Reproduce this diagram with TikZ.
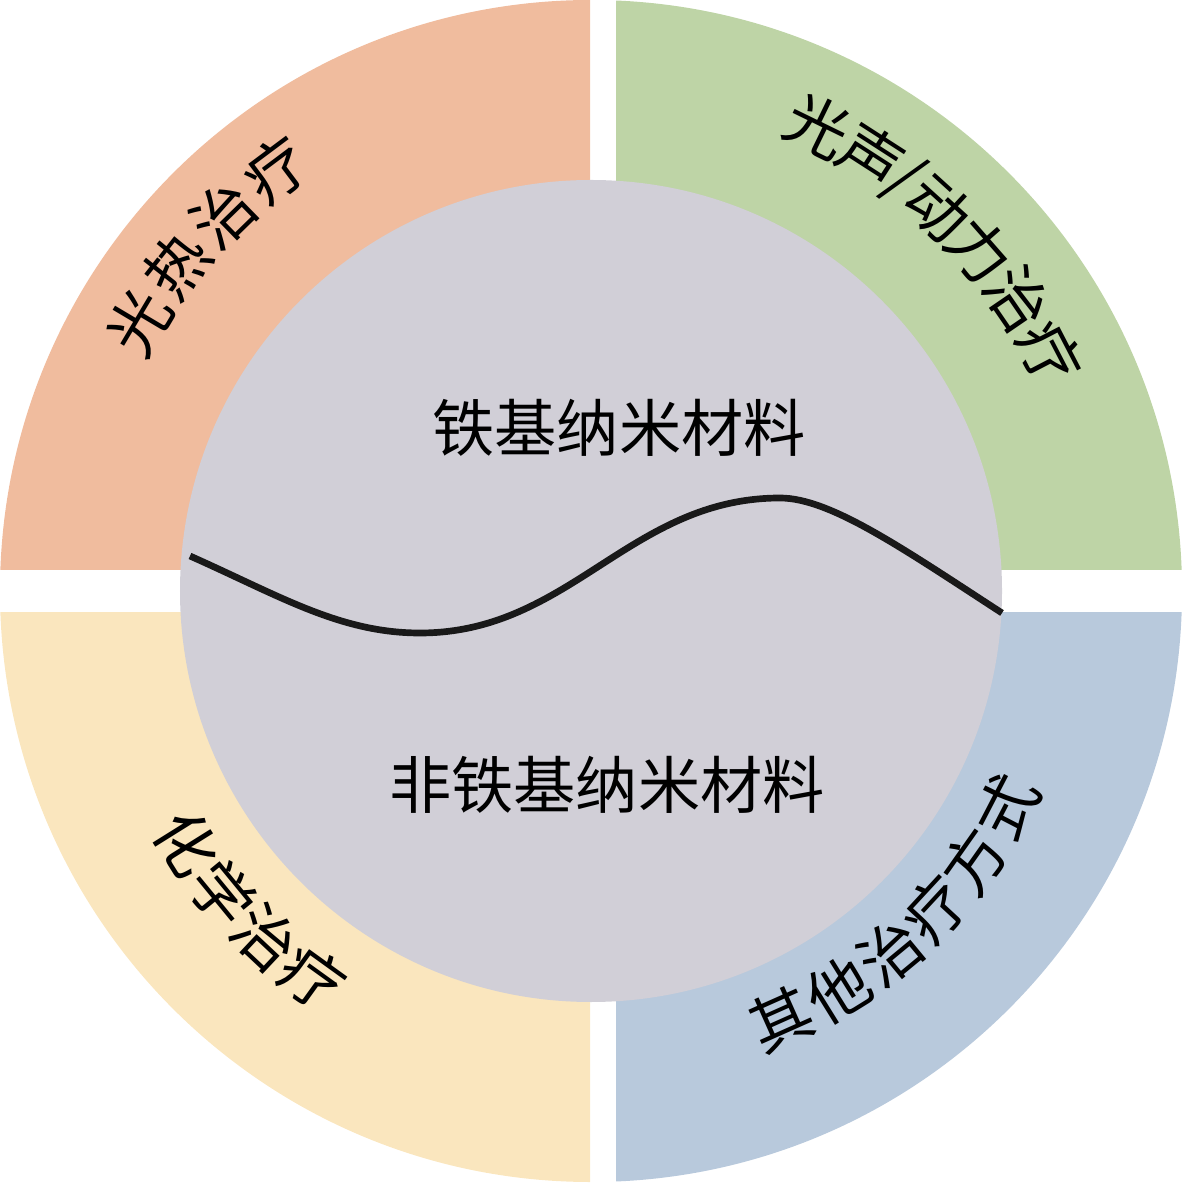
\documentclass[tikz,border=0pt]{standalone}
\usepackage{fontspec}
\newfontfamily\cjk{Noto Sans CJK SC}
\definecolor{salmon}{RGB}{240,188,158}
\definecolor{sage}{RGB}{190,212,166}
\definecolor{cream}{RGB}{250,230,190}
\definecolor{steel}{RGB}{184,201,220}
\definecolor{lilacgray}{RGB}{209,207,215}
\begin{document}
\begin{tikzpicture}[x=0.01cm, y=0.01cm]
  \tikzset{
    ring_text/.style={font=\cjk\fontsize{17.7pt}{20pt}\selectfont, inner sep=0pt},
    core_text/.style={font=\cjk\fontsize{17.7pt}{20pt}\selectfont, inner sep=0pt}
  }
  \useasboundingbox (-591,-592) rectangle (592,591);

  % Cuadrantes exteriores (el hueco blanco queda entre ellos)
  \begin{scope}
    \clip (-591,21) rectangle (-1,591);
    \fill[salmon] (0,0) circle (591);
  \end{scope}
  \begin{scope}
    \clip (25,21) rectangle (592,591);
    \fill[sage] (0,0) circle (591);
  \end{scope}
  \begin{scope}
    \clip (-591,-22) rectangle (-1,-592);
    \fill[cream] (0,0) circle (591);
  \end{scope}
  \begin{scope}
    \clip (25,-22) rectangle (592,-592);
    \fill[steel] (0,0) circle (591);
  \end{scope}

  % Circulo central
  \fill[lilacgray] (0,0) circle (411);

  % Linea ondulada que separa los materiales
  \coordinate (wave_start) at (-401,35);
  \coordinate (wave_low) at (-171,-42);
  \coordinate (wave_high) at (189,93);
  \coordinate (wave_end) at (411,-22);
  \draw[line width=1.9pt, black!90] (wave_start)
    .. controls (-311,-5) and (-251,-42) .. (wave_low)
    .. controls (-21,-42) and (39,93) .. (wave_high)
    .. controls (239,93) and (311,43) .. (wave_end);

  % Textos del centro
  \node[core_text] (iron) at (28,163) {铁基纳米材料};
  \node[core_text] (noniron) at (16,-194) {非铁基纳米材料};

  % Textos curvos de los cuadrantes superiores
  \foreach \ch/\a [count=\i] in {光/149.3, 热/141.8, 治/134.3, 疗/126.8}
    \node[ring_text, rotate=\a-90] (photo\i) at (\a:526) {\ch};
  \foreach \ch/\a [count=\i] in {光/64, 声/57.2, {/}/52.8, 动/47.8, 力/41.2, 治/34.4, 疗/27.4}
    \node[ring_text, rotate=\a-90] (sono\i) at (\a:517) {\ch};

  % Textos curvos de los cuadrantes inferiores
  \foreach \ch/\a [count=\i] in {化/212, 学/219.4, 治/226.8, 疗/234.2}
    \node[ring_text, rotate=\a+90] (chemo\i) at (\a:476) {\ch};
  \foreach \ch/\a [count=\i] in {其/294, 他/301.8, 治/309.6, 疗/317.2, 方/324.8, 式/332.6}
    \node[ring_text, rotate=\a+90] (other\i) at (\a:469) {\ch};
\end{tikzpicture}
\end{document}
